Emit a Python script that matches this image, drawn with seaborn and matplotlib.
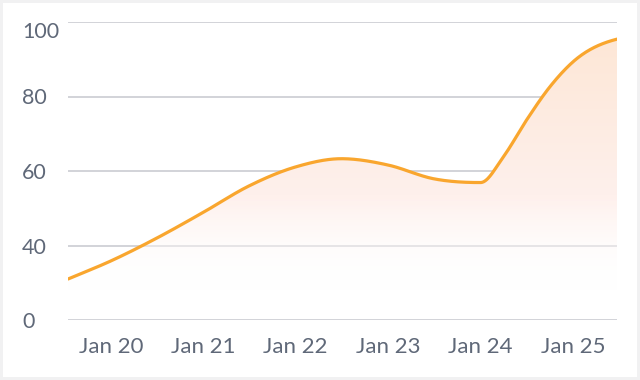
import numpy as np
import pandas as pd
import matplotlib
matplotlib.use("Agg")
import matplotlib.pyplot as plt
import seaborn as sns
from matplotlib.colors import LinearSegmentedColormap
from matplotlib.patches import Rectangle

# ---- data ----
dates = ["2019-07-16", "2020-01-01", "2020-07-01", "2021-01-01", "2021-07-01", "2022-01-01",
         "2022-07-01", "2023-01-01", "2023-07-01", "2024-01-01", "2024-04-01", "2024-07-01",
         "2024-10-01", "2025-01-01", "2025-06-24"]
values = [22.0, 31.7, 42.0, 48.9, 56.0, 61.1, 63.3, 61.6, 57.9, 56.9, 63.9, 73.7,
          82.6, 89.3, 95.4]
ytick_values = [0, 40, 60, 80, 100]
ytick_labels = ["0", "40", "60", "80", "100"]
xtick_years = [2020, 2021, 2022, 2023, 2024, 2025]
xtick_labels = ["Jan 20", "Jan 21", "Jan 22", "Jan 23", "Jan 24", "Jan 25"]

LINE = "#f9a62e"
TEXT = "#5f6878"
GRID = "#cfd0d5"

# piecewise y scale (0-40 occupies the same height as each 20 above it)
def fwd(v):
    v = np.asarray(v, dtype=float)
    return np.where(v <= 40, v / 40.0, 1.0 + (v - 40.0) / 20.0)

def inv(f):
    f = np.asarray(f, dtype=float)
    return np.where(f <= 1, f * 40.0, 40.0 + (f - 1.0) * 20.0)

def smooth(x, y, xn):
    # monotone-limited cubic Hermite through the points
    x = np.asarray(x, float); y = np.asarray(y, float)
    n = len(x)
    h = np.diff(x); d = np.diff(y) / h
    m = np.zeros(n)
    for k in range(1, n - 1):
        if d[k - 1] * d[k] > 0:
            m[k] = (d[k - 1] * h[k] + d[k] * h[k - 1]) / (h[k] + h[k - 1])
    m[0] = d[0]
    m[-1] = 0.5 * d[-1]
    for k in range(n - 1):
        if d[k] == 0:
            m[k] = m[k + 1] = 0
            continue
        a, b = m[k] / d[k], m[k + 1] / d[k]
        s = a * a + b * b
        if s > 9:
            tau = 3 / np.sqrt(s)
            m[k], m[k + 1] = tau * a * d[k], tau * b * d[k]
    idx = np.clip(np.searchsorted(x, xn) - 1, 0, n - 2)
    t = (xn - x[idx]) / h[idx]
    h00 = 2 * t**3 - 3 * t**2 + 1
    h10 = t**3 - 2 * t**2 + t
    h01 = -2 * t**3 + 3 * t**2
    h11 = t**3 - t**2
    return h00 * y[idx] + h10 * h[idx] * m[idx] + h01 * y[idx + 1] + h11 * h[idx] * m[idx + 1]

dt = pd.to_datetime(dates)
xnum = np.array(dt.year + (dt.dayofyear - 1) / 365.25, dtype=float)
xfine = np.linspace(xnum[0], xnum[-1], 800)
yfine = inv(smooth(xnum, fwd(values), xfine))
df = pd.DataFrame({"t": xfine, "v": yfine})

sns.set_theme(style="white")
plt.rcParams["font.family"] = ["Lato", "DejaVu Sans"]

fig = plt.figure(figsize=(6.4, 3.8), dpi=100)
fig.patch.set_facecolor("#f1f1f2")
fig.add_artist(Rectangle((3 / 640, 3 / 380), 634 / 640, 374 / 380,
                         transform=fig.transFigure, facecolor="white",
                         edgecolor="none", zorder=-10))

ax = fig.add_axes([68 / 640, (380 - 320) / 380, 549 / 640, 298 / 380])
ax.set_facecolor("none")
ax.set_yscale("function", functions=(fwd, inv))

# gradient fill under the curve
poly = ax.fill_between(df["t"], 0, df["v"], facecolor="none", edgecolor="none")
cmap = LinearSegmentedColormap.from_list(
    "g", [(0.0, (1, 1, 1, 0)), (0.10, (1, 1, 1, 0)), (0.42, "#fef0ec"), (1.0, "#fde6d4")])
grad = np.linspace(0, 1, 256).reshape(-1, 1)
im = ax.imshow(grad, extent=[0, 1, 0, 1], transform=ax.transAxes, aspect="auto",
               cmap=cmap, origin="lower", zorder=1, interpolation="bilinear")
im.set_clip_path(poly.get_paths()[0], transform=ax.transData)

sns.lineplot(data=df, x="t", y="v", ax=ax, color=LINE, linewidth=2.3, zorder=3)

ax.set_xlim(xnum[0], xnum[-1])
ax.set_ylim(0, 100)
ax.set_yticks(ytick_values)
ax.set_yticklabels(ytick_labels)
ax.set_xticks(xtick_years)
ax.set_xticklabels(xtick_labels)
ax.set_xlabel("")
ax.set_ylabel("")
ax.grid(axis="y", color=GRID, linewidth=1.3, zorder=0)
ax.grid(axis="x", visible=False)
ax.set_axisbelow(True)
for s in ax.spines.values():
    s.set_visible(False)
ax.tick_params(axis="y", length=0, pad=33, labelsize=15.5, labelcolor=TEXT)
ax.tick_params(axis="x", length=0, pad=12, labelsize=16, labelcolor=TEXT)
for lab in ax.get_yticklabels():
    lab.set_horizontalalignment("left")
    if lab.get_text() == "100":
        lab.set_verticalalignment("top")

fig.savefig("out.png", dpi=100, facecolor=fig.get_facecolor())
